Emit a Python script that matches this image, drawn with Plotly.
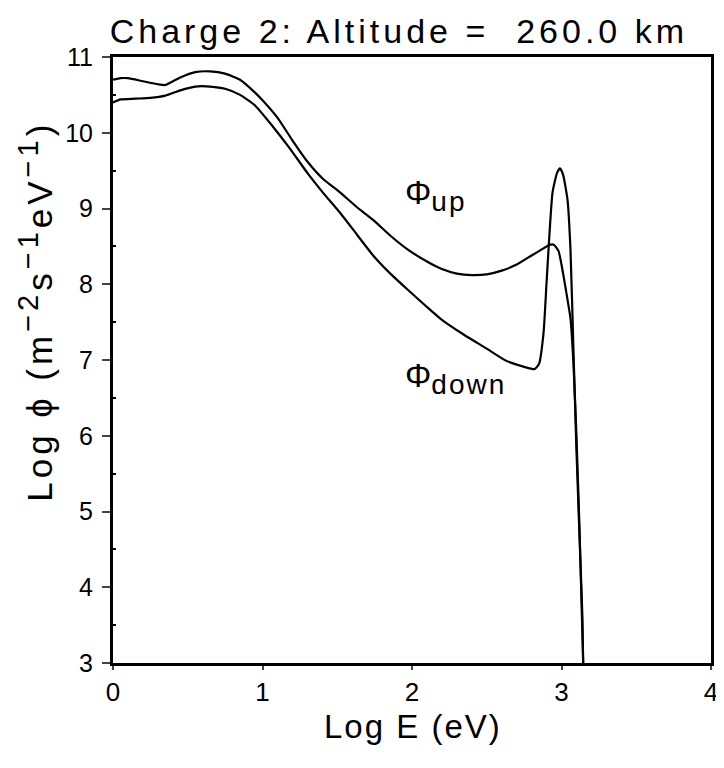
import plotly.graph_objects as go

# Data (Log E vs Log Phi)
e_up = [0.00, 0.05, 0.10, 0.20, 0.30, 0.35, 0.45, 0.55, 0.65, 0.75, 0.85, 0.95,
        1.00, 1.10, 1.20, 1.30, 1.40, 1.52, 1.63, 1.74, 1.85, 1.97, 2.10, 2.20,
        2.30, 2.40, 2.50, 2.60, 2.70, 2.80, 2.86, 2.92, 2.95, 2.98, 3.01, 3.04,
        3.06, 3.08, 3.10, 3.12, 3.145]
phi_up = [10.70, 10.72, 10.72, 10.68, 10.64, 10.63, 10.73, 10.80, 10.81, 10.78, 10.70, 10.53,
          10.43, 10.20, 9.90, 9.62, 9.40, 9.21, 9.02, 8.85, 8.65, 8.46, 8.30, 8.20,
          8.14, 8.12, 8.13, 8.18, 8.26, 8.38, 8.45, 8.52, 8.52, 8.44, 8.15, 7.80,
          7.55, 6.95, 6.00, 4.80, 3.00]

e_down = [0.00, 0.05, 0.15, 0.25, 0.35, 0.45, 0.55, 0.65, 0.75, 0.85, 0.95, 1.07,
          1.18, 1.30, 1.40, 1.52, 1.63, 1.74, 1.85, 1.97, 2.10, 2.20, 2.35, 2.50,
          2.63, 2.75, 2.82, 2.85, 2.88, 2.90, 2.92, 2.94, 2.97, 2.99, 3.01, 3.04,
          3.06, 3.08, 3.10, 3.12, 3.14, 3.145]
phi_down = [10.40, 10.44, 10.45, 10.46, 10.49, 10.56, 10.61, 10.61, 10.58, 10.50, 10.36, 10.08,
            9.80, 9.47, 9.22, 8.94, 8.66, 8.38, 8.15, 7.93, 7.70, 7.53, 7.33, 7.15,
            6.99, 6.91, 6.88, 6.95, 7.36, 8.02, 8.68, 9.21, 9.47, 9.53, 9.45, 9.12,
            8.46, 7.13, 5.81, 4.70, 3.60, 3.00]

x_ticks = [0, 1, 2, 3, 4]
y_ticks = [3, 4, 5, 6, 7, 8, 9, 10, 11]

FONT = "Liberation Sans, Arial, Helvetica, sans-serif"

fig = go.Figure()
fig.add_trace(go.Scatter(x=e_up, y=phi_up, mode="lines", name="up",
                         line=dict(color="black", width=2.2, shape="spline", smoothing=0.5)))
fig.add_trace(go.Scatter(x=e_down, y=phi_down, mode="lines", name="down",
                         line=dict(color="black", width=2.2, shape="spline", smoothing=0.5)))

# page body has an 8px margin, so the figure is offset by 8px right and down
fig.update_layout(
    width=724, height=760,
    margin=dict(l=105, r=21, t=49, b=105, autoexpand=False),
    paper_bgcolor="white", plot_bgcolor="white",
    showlegend=False,
    font=dict(family=FONT, color="black"),
    title=dict(text="<span style='letter-spacing:4px'>Charge 2: Altitude =\u00a0\u00a0260.0 km</span>",
               x=0.478, xanchor="center", xref="paper",
               y=0.970, yanchor="middle", font=dict(size=34, family=FONT, color="black")),
)
fig.update_xaxes(range=[0, 4], tickvals=x_ticks, ticks="outside", ticklen=4, tickwidth=2,
                 showline=True, linewidth=3, linecolor="black", mirror=True,
                 showgrid=False, zeroline=False, automargin=False,
                 tickfont=dict(size=26), ticklabelstandoff=0)
fig.update_yaxes(range=[3, 11], tickvals=y_ticks, ticks="outside", ticklen=8, tickwidth=2,
                 showline=True, linewidth=3, linecolor="black", mirror=True,
                 showgrid=False, zeroline=False, automargin=False,
                 tickfont=dict(size=25), ticklabelstandoff=4,
                 minor=dict(tickvals=[3.5 + i for i in range(8)], ticks="inside", ticklen=3, tickcolor="black"))

fig.add_annotation(text="<span style='letter-spacing:2px'>Log E (eV)</span>",
                   xref="paper", yref="paper", x=0.502, y=-0.104, xanchor="center", yanchor="middle",
                   showarrow=False, font=dict(size=33))

SUP = "<sup><span style='font-size:29px'>\u2212{}</span></sup>"
ylabel = ("<span style='letter-spacing:4px'>Log \u0278 (m" + SUP.format(2) + "s" + SUP.format(1)
          + "eV" + SUP.format(1) + ")</span>")
fig.add_annotation(text=ylabel, textangle=-90,
                   xref="paper", yref="paper", x=-0.13, y=0.58, xanchor="center", yanchor="middle",
                   showarrow=False, font=dict(size=35))
fig.add_annotation(text="\u03a6<sub><span style='font-size:28px;letter-spacing:2px'>up</span></sub>",
                   xref="x", yref="y", x=1.94, y=9.17,
                   xanchor="left", yanchor="middle", showarrow=False, font=dict(size=33))
fig.add_annotation(text="\u03a6<sub><span style='font-size:28px;letter-spacing:2px'>down</span></sub>",
                   xref="x", yref="y", x=1.94, y=6.75,
                   xanchor="left", yanchor="middle", showarrow=False, font=dict(size=33))

fig.write_html("out.html")
